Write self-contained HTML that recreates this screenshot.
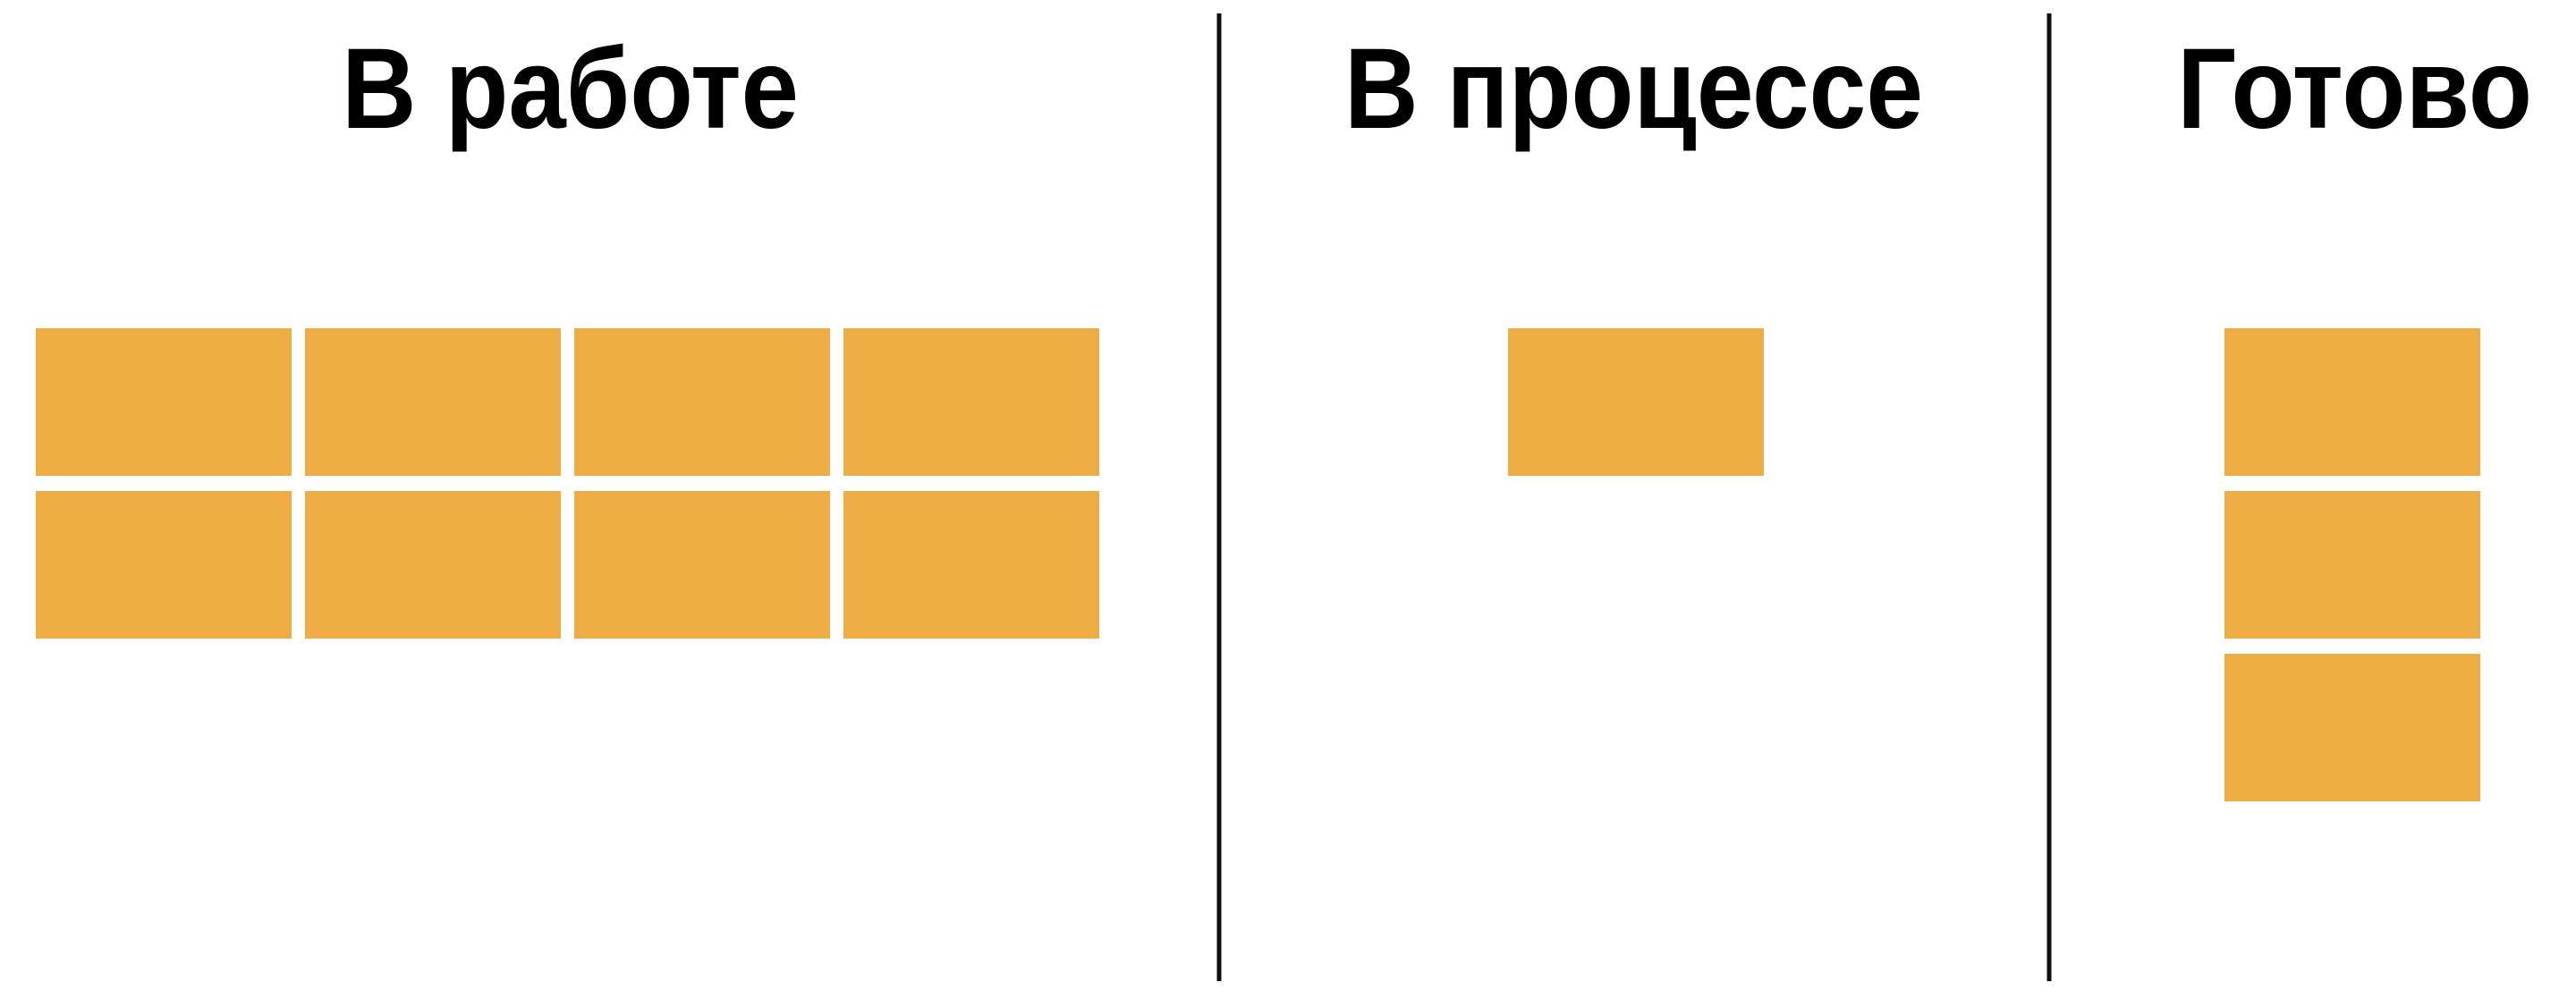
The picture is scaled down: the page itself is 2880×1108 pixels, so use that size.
<!DOCTYPE html>
<html><head><meta charset="utf-8"><style>html,body{margin:0;padding:0;background:#fff;overflow:hidden}svg{display:block}</style></head>
<body>
<svg id="chart" width="2880" height="1108" viewBox="0 0 2880 1108" xmlns="http://www.w3.org/2000/svg">
<g id="titles"></g><g id="dividers"></g><g id="cards"></g>
</svg>
<script>
const categories = ["В работе", "В процессе", "Готово"];
const cardCounts = [8, 1, 3];
const columnsPerGroup = [4, 1, 1];

const NS = "http://www.w3.org/2000/svg";
const titleLeft = [382, 1503, 2434];
const titleWidths = [511, 647, 397];
const dividerX = [1363, 2291];
const cardW = 286, cardH = 165, pitchX = 301, pitchY = 182, topY = 367;
const groupLeft = [40, 1686, 2487];

categories.forEach((c, i) => {
  const t = document.createElementNS(NS, 'text');
  
  
  t.setAttribute('x', titleLeft[i]);
  t.setAttribute('y', 143);
  t.setAttribute('font-family', '"Liberation Sans", "Noto Sans CJK SC", sans-serif');
  t.setAttribute('font-size', '128');
  t.setAttribute('font-weight', 'bold');
  t.setAttribute('textLength', titleWidths[i]);
  t.setAttribute('lengthAdjust', 'spacingAndGlyphs');
  t.setAttribute('fill', '#000');
  t.textContent = c;
  document.getElementById('titles').appendChild(t);

  for (let k = 0; k < cardCounts[i]; k++) {
    const col = k % columnsPerGroup[i], row = Math.floor(k / columnsPerGroup[i]);
    const r = document.createElementNS(NS, 'rect');
    
    
    r.setAttribute('x', groupLeft[i] + col * pitchX);
    r.setAttribute('y', topY + row * pitchY);
    r.setAttribute('width', cardW);
    r.setAttribute('height', cardH);
    r.setAttribute('fill', '#EDAC44');
    document.getElementById('cards').appendChild(r);
  }
});
dividerX.forEach(x => {
  const l = document.createElementNS(NS, 'rect');
  
  
  l.setAttribute('x', x - 2.5);
  l.setAttribute('y', 15);
  l.setAttribute('width', 5);
  l.setAttribute('height', 1082);
  l.setAttribute('fill', '#111');
  document.getElementById('dividers').appendChild(l);
});
</script>
</body></html>
